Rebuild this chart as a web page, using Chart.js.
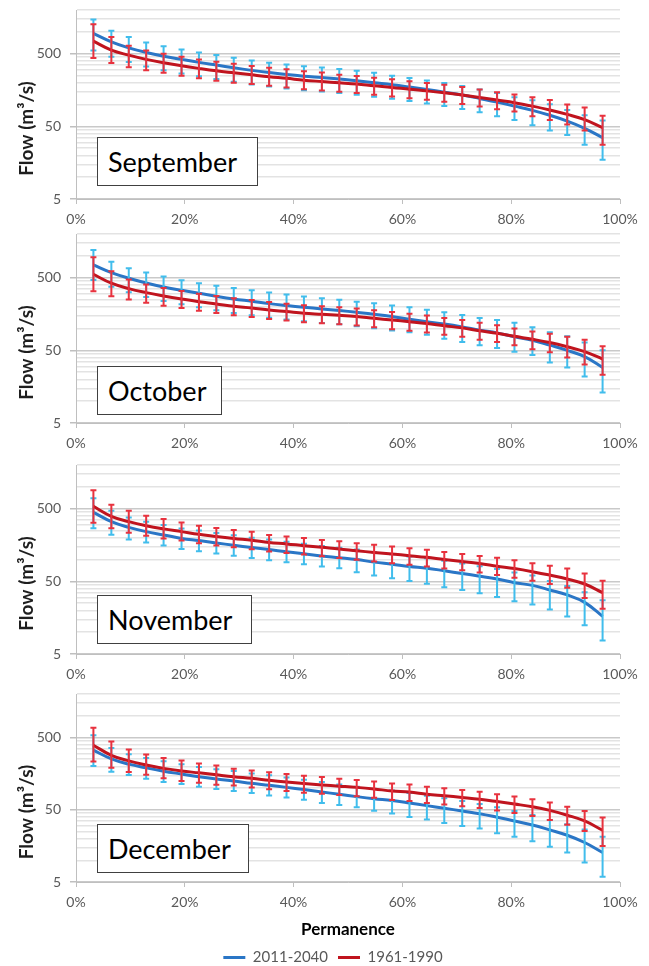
<!DOCTYPE html>
<html>
<head>
<meta charset="utf-8">
<script src="https://cdn.jsdelivr.net/npm/chart.js@4.4.0/dist/chart.umd.min.js"></script>
<style>
html, body { margin: 0; padding: 0; background: #fff; overflow: hidden; width: 649px; height: 966px; }
canvas { position: absolute; left: 0; }
.month { position: absolute; left: 97px; height: 49px; box-sizing: border-box; border: 1.5px solid #404040; background: #fff;
  font: 27px Lato, sans-serif; color: #000; padding-left: 10px; display: flex; align-items: center; }
</style>
</head>
<body>
<canvas id="c0" width="649" height="231" style="top:0px"></canvas>
<canvas id="c1" width="649" height="231" style="top:224px"></canvas>
<canvas id="c2" width="649" height="231" style="top:455px"></canvas>
<canvas id="c3" width="649" height="291" style="top:684px"></canvas>
<div class="month" style="top:137px;width:161px">September</div>
<div class="month" style="top:366px;width:125px">October</div>
<div class="month" style="top:595px;width:155px">November</div>
<div class="month" style="top:824px;width:152px">December</div>
<script>
// permanence (%) of the 30 ranked values
const perm = [3.2, 6.5, 9.7, 12.9, 16.1, 19.4, 22.6, 25.8, 29.0, 32.3, 35.5, 38.7, 41.9, 45.2, 48.4,
  51.6, 54.8, 58.1, 61.3, 64.5, 67.7, 71.0, 74.2, 77.4, 80.6, 83.9, 87.1, 90.3, 93.5, 96.8];

const yGrid = [5, 10, 15, 20, 25, 30, 35, 40, 45, 50, 100, 150, 200, 250, 300, 350, 400, 450, 500, 1000, 1500, 2000];
const yLabels = [5, 50, 500];
const seriesNames = ['2011-2040', '1961-1990'];

// September
const sepNew = [950, 729, 602, 521, 463, 418, 380, 349, 320, 295, 275, 258, 245, 235, 225, 212, 199, 187, 174, 161, 148, 135, 121, 108, 95, 83, 71, 59, 47, 35];
const sepNewHi = [1480, 1033, 853, 715, 635, 573, 521, 479, 439, 405, 377, 354, 336, 322, 309, 291, 273, 249, 231, 214, 197, 180, 161, 144, 126, 114, 101, 84, 71, 60];
const sepNewLo = [555, 454, 386, 334, 297, 268, 244, 224, 205, 189, 177, 166, 157, 151, 144, 136, 128, 120, 112, 103, 95, 87, 78, 69, 61, 52, 44, 38, 28, 17.4];
const sepOld = [745, 561, 478, 418, 375, 341, 314, 291, 273, 256, 241, 229, 216, 207, 199, 191, 181, 172, 162, 154, 145, 135, 125, 115, 106, 95, 84, 73, 62, 48];
const sepOldHi = [1276, 847, 645, 556, 499, 454, 418, 387, 363, 340, 321, 305, 287, 275, 256, 246, 233, 222, 209, 198, 187, 174, 161, 148, 137, 126, 115, 100, 91, 70];
const sepOldLo = [435, 372, 327, 295, 273, 249, 229, 212, 199, 192, 181, 172, 162, 156, 150, 144, 136, 129, 122, 116, 109, 102, 94, 86, 80, 69, 61, 53, 44, 28];

// October
const octNew = [750, 588, 492, 424, 373, 336, 306, 278, 255, 237, 220, 207, 196, 186, 177, 167, 157, 146, 134, 124, 115, 105, 95, 87, 77, 69, 59, 50, 41, 29];
const octNewHi = [1205, 833, 675, 591, 520, 461, 420, 388, 361, 336, 312, 293, 275, 261, 248, 234, 222, 207, 196, 181, 168, 154, 139, 131, 120, 104, 89, 78, 64, 50];
const octNewLo = [467, 377, 316, 272, 239, 216, 196, 178, 164, 152, 141, 133, 126, 119, 114, 107, 101, 94, 89, 82, 72, 65, 59, 54, 48, 43, 34, 29, 21.8, 13.1];
const octOld = [558, 420, 354, 312, 281, 255, 234, 218, 202, 192, 180, 171, 162, 157, 152, 146, 138, 131, 124, 117, 109, 102, 93, 86, 78, 71, 64, 56, 48, 38];
const octOldHi = [956, 614, 471, 402, 362, 328, 301, 281, 260, 247, 232, 220, 209, 202, 196, 188, 178, 169, 160, 151, 140, 131, 120, 111, 100, 91, 85, 77, 70, 57];
const octOldLo = [326, 278, 250, 227, 205, 192, 176, 164, 152, 144, 135, 129, 122, 118, 114, 110, 104, 98, 93, 88, 82, 77, 70, 65, 59, 52, 47, 40, 32, 23];

// November
const novNew = [446, 332, 277, 242, 218, 195, 182, 169, 157, 146, 137, 128, 120, 112, 106, 100, 92, 86, 80, 76, 70, 64, 59, 54, 48, 44, 38, 32.5, 25.7, 16.5];
const novNewHi = [695, 470, 380, 332, 299, 268, 250, 232, 215, 200, 188, 176, 165, 154, 145, 137, 126, 118, 110, 104, 96, 88, 81, 74, 66, 60, 50.5, 43.2, 35.3, 27.4];
const novNewLo = [269, 220, 189, 171, 156, 140, 130, 121, 113, 105, 98, 92, 86, 80, 76, 67, 60, 55, 50.5, 46.5, 41.5, 38, 34.4, 30.5, 26.7, 24.1, 20.5, 16.4, 12.4, 7.7];
const novOld = [540, 393, 332, 292, 264, 242, 222, 208, 195, 184, 172, 164, 155, 147, 140, 132, 125, 119, 113, 107, 100, 94, 88, 81, 75, 68, 61, 54, 46, 35];
const novOldHi = [896, 566, 470, 401, 362, 322, 291, 272, 255, 241, 218, 208, 197, 186, 178, 167, 159, 151, 143, 136, 127, 119, 112, 106, 98, 89, 82, 75, 64, 51];
const novOldLo = [320, 269, 234, 213, 195, 182, 167, 156, 147, 138, 129, 123, 117, 111, 105, 99, 94, 89, 85, 80, 75, 71, 66, 61, 56, 51, 46, 41, 29.5, 21];

// December
const decNew = [334, 253, 214, 190, 171, 156, 143, 133, 125, 116, 109, 102, 95, 88, 82, 76, 71, 67, 62, 57, 52.5, 48, 44, 39.4, 35, 30.8, 26.3, 22.2, 17.6, 12.8];
const decNewHi = [537, 358, 294, 261, 235, 214, 196, 182, 172, 159, 150, 140, 130, 121, 112, 104, 97, 92, 85, 78, 72, 66, 60, 54, 48, 42.3, 36.1, 31.5, 26.6, 21.2];
const decNewLo = [201, 168, 151, 134, 121, 114, 104, 97, 91, 85, 79, 74, 69, 62, 58, 54, 48.6, 44.4, 39.8, 36.6, 32.7, 29.9, 27.4, 23.7, 21.1, 18.3, 15.4, 12.8, 9.3, 5.9];
const decOld = [391, 283, 237, 208, 187, 172, 162, 152, 143, 136, 128, 121, 115, 110, 106, 102, 97, 91, 88, 82, 78, 74, 70, 65, 60, 55, 49, 42, 35, 26];
const decOldHi = [681, 441, 341, 290, 261, 240, 219, 205, 184, 175, 165, 156, 148, 142, 134, 129, 123, 115, 112, 104, 99, 94, 89, 82, 76, 70, 63, 55, 48, 39];
const decOldLo = [232, 190, 167, 152, 136, 125, 118, 111, 108, 102, 96, 91, 86, 83, 80, 77, 73, 68, 66, 62, 59, 56, 53, 49, 45, 41, 36, 31, 25.5, 15.7];

const BLUE = '#2a76c6', BLUE_ERR = '#41bdec';
const RED = '#c0141e', RED_ERR = '#e8323e';
const GREY_TXT = '#595959';

// draws the error bars right after each line, through the chart scales
const errorBars = {
  id: 'errorBars',
  afterDatasetDraw(chart, args) {
    const ds = chart.data.datasets[args.index];
    const xs = chart.scales.x, ys = chart.scales.y, ctx = chart.ctx;
    ctx.save();
    ctx.strokeStyle = ds.errColor;
    ctx.lineWidth = 2;
    ds.data.forEach((p, i) => {
      const px = xs.getPixelForValue(p.x);
      const top = ys.getPixelForValue(ds.errHi[i]);
      const bot = ys.getPixelForValue(ds.errLo[i]);
      ctx.beginPath();
      ctx.moveTo(px, top); ctx.lineTo(px, bot);
      ctx.moveTo(px - 3, top); ctx.lineTo(px + 3, top);
      ctx.moveTo(px - 3, bot); ctx.lineTo(px + 3, bot);
      ctx.stroke();
    });
    ctx.restore();
  }
};

// rotated y title, sat a bit below the middle like the original
const yTitle = {
  id: 'yTitle',
  afterDraw(chart) {
    const a = chart.chartArea, ctx = chart.ctx;
    ctx.save();
    ctx.translate(27, (a.top + a.bottom) / 2 + 24);
    ctx.rotate(-Math.PI / 2);
    ctx.font = 'bold 19px Lato';
    ctx.fillStyle = '#1e1e1e';
    ctx.textAlign = 'center';
    ctx.textBaseline = 'middle';
    ctx.fillText('Flow (m³/s)', 0, 0);
    ctx.restore();
  }
};

// the legend sits centred under the whole picture, not under the plot box
const legendShift = {
  id: 'legendShift',
  beforeDraw(chart) {
    if (chart.legend && chart.options.plugins.legend.display) chart.legend.left = 46;
  }
};

function makePanel(id, newMean, newLo, newHi, oldMean, oldLo, oldHi, last) {
  const ctx = document.getElementById(id).getContext('2d');
  return new Chart(ctx, {
    type: 'line',
    data: {
      datasets: [
        { label: seriesNames[0], data: perm.map((p, i) => ({ x: p, y: newMean[i] })),
          errLo: newLo, errHi: newHi, errColor: BLUE_ERR,
          borderColor: BLUE, backgroundColor: BLUE, borderWidth: 3, pointRadius: 0, tension: 0.4, order: 2 },
        { label: seriesNames[1], data: perm.map((p, i) => ({ x: p, y: oldMean[i] })),
          errLo: oldLo, errHi: oldHi, errColor: RED_ERR,
          borderColor: RED, backgroundColor: RED, borderWidth: 3, pointRadius: 0, tension: 0.4, order: 1 }
      ]
    },
    options: {
      responsive: false,
      animation: false,
      layout: { padding: { top: 10, right: 29, bottom: 0, left: 0 } },
      plugins: {
        legend: {
          display: last,
          position: 'bottom',
          labels: { usePointStyle: true, pointStyle: 'line', pointStyleWidth: 22, padding: 10,
            color: GREY_TXT, font: { family: 'Lato', size: 15 },
            sort: (a, b) => a.datasetIndex - b.datasetIndex }
        },
        tooltip: { enabled: false }
      },
      scales: {
        x: {
          type: 'linear', min: 0, max: 100,
          ticks: { stepSize: 20, callback: v => v + '%', color: GREY_TXT, font: { family: 'Lato', size: 14 }, padding: 7, maxRotation: 0 },
          grid: { drawOnChartArea: false, drawTicks: true, tickLength: 5, color: '#bfbfbf' },
          border: { display: true, color: '#bfbfbf' },
          title: { display: last, text: 'Permanence', color: '#000', font: { family: 'Lato', size: 17, weight: 'bold' }, padding: 0 },
          afterFit: s => { s.height = last ? 58 : 32; }
        },
        y: {
          type: 'logarithmic', min: 5, max: 2000,
          afterBuildTicks: s => { s.ticks = yGrid.map(v => ({ value: v })); },
          // fixed width, and no extra room above for the hidden top label
          afterFit: s => { s.width = 76; s.paddingTop = 0; s.paddingBottom = 0; },
          ticks: { autoSkip: false, color: GREY_TXT, font: { family: 'Lato', size: 14 }, padding: 9,
            callback: v => yLabels.includes(v) ? String(v) : '' },
          grid: {
            color: c => yLabels.includes(c.tick.value) ? '#c9c9c9' : '#e3e3e3',
            tickColor: c => yLabels.includes(c.tick.value) ? '#bfbfbf' : 'rgba(0,0,0,0)',
            lineWidth: 1.5, tickLength: 6
          },
          border: { display: true, color: '#bfbfbf' }
        }
      }
    },
    plugins: [errorBars, yTitle, legendShift]
  });
}

makePanel('c0', sepNew, sepNewLo, sepNewHi, sepOld, sepOldLo, sepOldHi, false);
makePanel('c1', octNew, octNewLo, octNewHi, octOld, octOldLo, octOldHi, false);
makePanel('c2', novNew, novNewLo, novNewHi, novOld, novOldLo, novOldHi, false);
makePanel('c3', decNew, decNewLo, decNewHi, decOld, decOldLo, decOldHi, true);
</script>
</body>
</html>
